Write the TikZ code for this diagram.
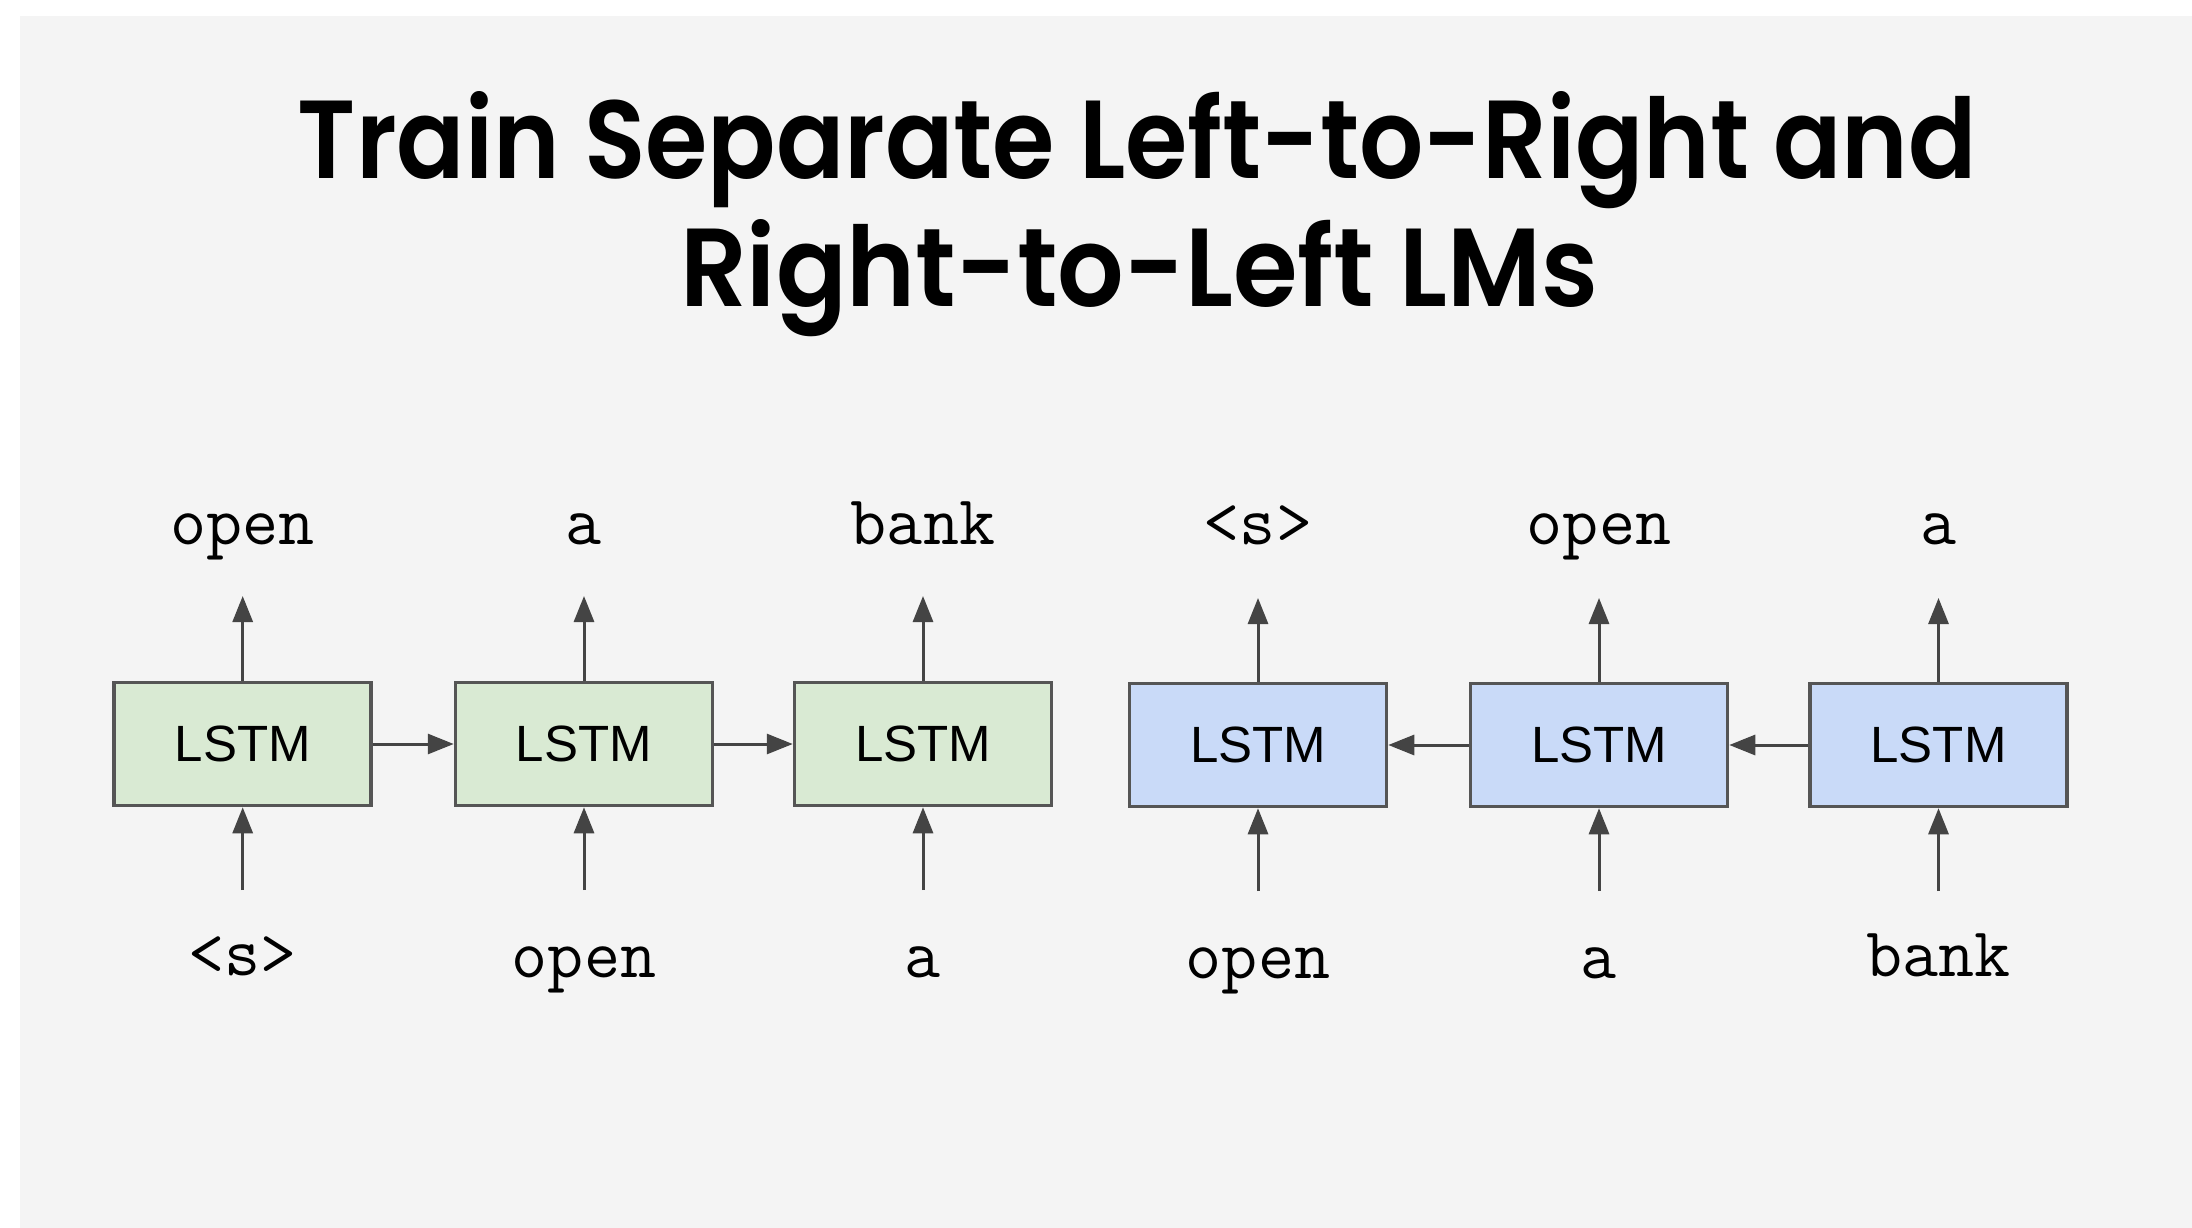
\documentclass[tikz,border=0pt]{standalone}
\usepackage{fontspec}
\usepackage{graphicx}
\usetikzlibrary{arrows.meta}

\newfontfamily\titlefont{Poppins}[BoldFont={Poppins SemiBold}]
\newfontfamily\cellfont{Liberation Sans}

\definecolor{slidebg}{HTML}{F4F4F4}
\definecolor{fwdfill}{HTML}{D9EAD3}
\definecolor{bwdfill}{HTML}{C9DAF8}
\definecolor{boxline}{HTML}{555555}
\definecolor{arrowcol}{HTML}{444444}

\begin{document}
\begin{tikzpicture}[x=1pt,y=-1pt,
  cell/.style={draw=boxline, line width=3.5pt, minimum width=257pt,
    minimum height=123pt, inner sep=0pt,
    font=\cellfont\fontsize{51}{51}\selectfont},
  fwd/.style={cell, fill=fwdfill},
  bwd/.style={cell, fill=bwdfill},
  word/.style={inner sep=0pt, anchor=base,
    font=\ttfamily\fontsize{70}{70}\selectfont},
  heading/.style={inner sep=0pt, anchor=base,
    font=\titlefont\bfseries\fontsize{111}{111}\selectfont},
  link/.style={draw=arrowcol, line width=3pt,
    -{Triangle[length=26pt,width=20pt]}},
]
% page and slide background
\useasboundingbox (0,0) rectangle (2192,1228);
\fill[white] (0,0) rectangle (2192,1228);
\fill[slidebg] (20,16) rectangle (2192,1228);

% title
\node[heading] (title1) at (1137.5,178)
  {\resizebox{1679pt}{\height}{Train Separate Left-to-Right and}};
\node[heading] (title2) at (1139,306)
  {\resizebox{918pt}{\height}{Right-to-Left LMs}};

% left-to-right language model
\node[fwd] (f1) at (242.7,744) {LSTM};
\node[fwd] (f2) at (584,744) {LSTM};
\node[fwd] (f3) at (923,744) {LSTM};

% right-to-left language model
\node[bwd] (b1) at (1258,745) {LSTM};
\node[bwd] (b2) at (1599,745) {LSTM};
\node[bwd] (b3) at (1938.5,745) {LSTM};

% recurrent connections
\draw[link] (f1.east) -- (f2.west);
\draw[link] (f2.east) -- (f3.west);
\draw[link] (b3.west) -- (b2.east);
\draw[link] (b2.west) -- (b1.east);

% predicted words
\node[word] (of1) at (242.7,544) {open};
\node[word] (of2) at (584,544) {a};
\node[word] (of3) at (923,544) {bank};
\node[word] (ob1) at (1258,544) {<s>};
\node[word] (ob2) at (1599,544) {open};
\node[word] (ob3) at (1938.5,544) {a};

% input words
\node[word] (if1) at (242.7,975) {<s>};
\node[word] (if2) at (584,977) {open};
\node[word] (if3) at (923,977) {a};
\node[word] (ib1) at (1258,978) {open};
\node[word] (ib2) at (1599,978) {a};
\node[word] (ib3) at (1938.5,976) {bank};

% output arrow ends
\coordinate (uf1) at (242.7,596);
\coordinate (uf2) at (584,596);
\coordinate (uf3) at (923,596);
\coordinate (ub1) at (1258,598);
\coordinate (ub2) at (1599,598);
\coordinate (ub3) at (1938.5,598);

% input arrow starts
\coordinate (df1) at (242.7,890);
\coordinate (df2) at (584,890);
\coordinate (df3) at (923,890);
\coordinate (db1) at (1258,891);
\coordinate (db2) at (1599,891);
\coordinate (db3) at (1938.5,891);

\draw[link] (f1.north) -- (uf1);
\draw[link] (f2.north) -- (uf2);
\draw[link] (f3.north) -- (uf3);
\draw[link] (b1.north) -- (ub1);
\draw[link] (b2.north) -- (ub2);
\draw[link] (b3.north) -- (ub3);

\draw[link] (df1) -- (f1.south);
\draw[link] (df2) -- (f2.south);
\draw[link] (df3) -- (f3.south);
\draw[link] (db1) -- (b1.south);
\draw[link] (db2) -- (b2.south);
\draw[link] (db3) -- (b3.south);
\end{tikzpicture}
\end{document}
